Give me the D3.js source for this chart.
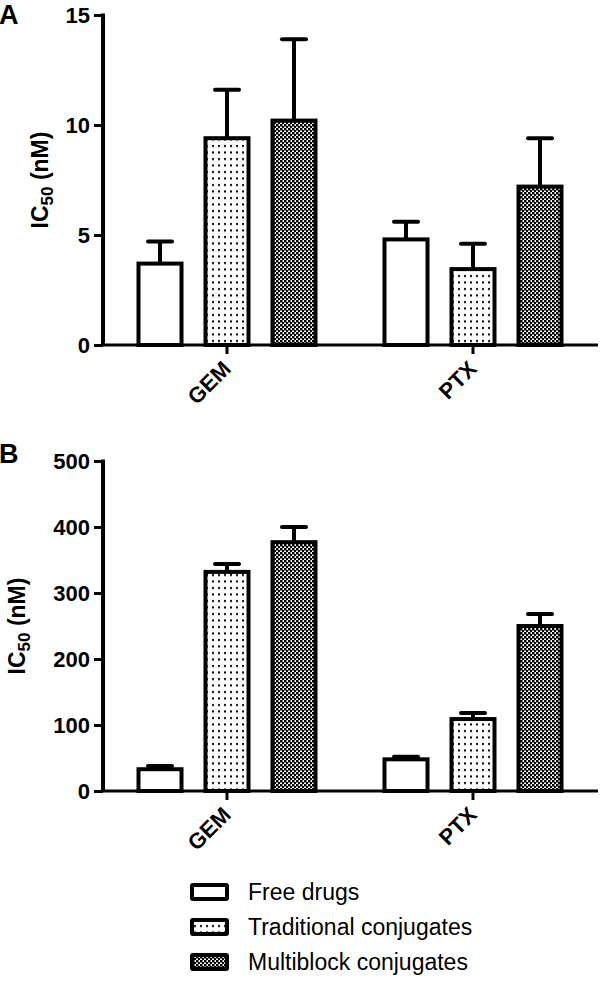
<!DOCTYPE html>
<html><head><meta charset="utf-8">
<script src="https://cdn.jsdelivr.net/npm/d3@7"></script>
<style>body{margin:0;background:#fff}svg{display:block}text{font-family:"Liberation Sans",Arial,sans-serif}</style>
</head><body>
<script>
const categories = ["GEM", "PTX"];
const series = ["Free drugs", "Traditional conjugates", "Multiblock conjugates"];
// Panel A values (nM) [GEM, PTX]
const aFree = [3.7, 4.8], aFreeErr = [1.0, 0.8];
const aTrad = [9.4, 3.45], aTradErr = [2.2, 1.15];
const aMulti = [10.2, 7.2], aMultiErr = [3.7, 2.2];
const aTicks = [0, 5, 10, 15];
// Panel B values (nM)
const bFree = [33, 48], bFreeErr = [5, 4];
const bTrad = [332, 109], bTradErr = [12, 9];
const bMulti = [377, 250], bMultiErr = [23, 18];
const bTicks = [0, 100, 200, 300, 400, 500];

const W = 600, H = 982;
const svg = d3.select("body").append("svg").attr("width", W).attr("height", H);
const defs = svg.append("defs");
const pd = defs.append("pattern").attr("id","dots").attr("patternUnits","userSpaceOnUse").attr("width",6).attr("height",6.5);
pd.append("rect").attr("width",6).attr("height",6.5).attr("fill","#fff");
pd.append("rect").attr("x",2).attr("y",2).attr("width",2).attr("height",2).attr("fill","#000");
const pc = defs.append("pattern").attr("id","checks").attr("patternUnits","userSpaceOnUse").attr("width",4).attr("height",4);
pc.append("rect").attr("width",4).attr("height",4).attr("fill","#fff");
pc.append("rect").attr("x",0).attr("y",0).attr("width",2.5).attr("height",2.5).attr("fill","#000");
pc.append("rect").attr("x",2).attr("y",2).attr("width",2.5).attr("height",2.5).attr("fill","#000");
const fills = ["#fff", "url(#dots)", "url(#checks)"];

const x = d3.scaleBand().domain(categories).range([104, 596]);
const xs = d3.scaleBand().domain(series).range([-88.5, 88.5]).paddingInner(0.358).paddingOuter(0);

function panel(letter, letterY, top, bottom, domainMax, ticks, vals, errs, titleX) {
  const y = d3.scaleLinear().domain([0, domainMax]).range([bottom, top]);
  const g = svg.append("g");
  g.append("text").attr("x", -1).attr("y", letterY).attr("font-size", 27).attr("font-weight", "bold").text(letter);
  // y axis
  const ya = g.append("g").attr("transform", `translate(103,0)`)
    .call(d3.axisLeft(y).tickValues(ticks).tickSize(9).tickPadding(4).tickFormat(d3.format("d")));
  ya.select(".domain").remove();
  ya.selectAll(".tick line").attr("stroke-width", 3);
  ya.selectAll(".tick text").attr("font-size", 22).attr("font-weight", "bold").attr("font-family", "Liberation Sans, Arial, sans-serif").attr("fill","#000").attr("dy","0.36em");
  g.append("line").attr("x1",103).attr("x2",103).attr("y1",y(domainMax)-1.5).attr("y2",bottom).attr("stroke","#000").attr("stroke-width",4);
  // x axis
  const xa = g.append("g").attr("transform", `translate(0,${bottom})`)
    .call(d3.axisBottom(x).tickSize(9).tickFormat(""));
  xa.select(".domain").remove();
  xa.selectAll(".tick line").attr("stroke-width", 3);
  g.append("line").attr("x1",101).attr("x2",598).attr("y1",bottom).attr("y2",bottom).attr("stroke","#000").attr("stroke-width",3);
  categories.forEach(c => {
    g.append("text").attr("transform", `translate(${x(c)+x.bandwidth()/2-6},${bottom+14}) rotate(-45)`)
      .attr("text-anchor","end").attr("dy","0.72em").attr("font-size", 22).attr("font-weight","bold").text(c);
  });
  // bars
  series.forEach((s, si) => {
    categories.forEach((c, ci) => {
      const cx = x(c) + x.bandwidth()/2 + xs(s) + xs.bandwidth()/2;
      const v = vals[si][ci], e = errs[si][ci];
      g.append("line").attr("x1",cx).attr("x2",cx).attr("y1",y(v)).attr("y2",y(v+e)).attr("stroke","#000").attr("stroke-width",4);
      g.append("line").attr("x1",cx-12).attr("x2",cx+12).attr("y1",y(v+e)).attr("y2",y(v+e)).attr("stroke","#000").attr("stroke-width",4).attr("stroke-linecap","round");
      g.append("rect").attr("x", x(c) + x.bandwidth()/2 + xs(s)).attr("width", xs.bandwidth())
        .attr("y", y(v)).attr("height", bottom - y(v))
        .attr("fill", fills[si]).attr("stroke","#000").attr("stroke-width",4);
    });
  });
  // y title
  const t = g.append("text").attr("transform", `translate(${titleX},${(top+bottom)/2}) rotate(-90)`)
    .attr("text-anchor","middle").attr("font-size", 23).attr("font-weight","bold");
  t.append("tspan").text("IC");
  t.append("tspan").attr("font-size", 17).attr("dy", 5).text("50");
  t.append("tspan").attr("dy", -5).text(" (nM)");
}

panel("A", 24, 15, 345, 15, aTicks, [aFree, aTrad, aMulti], [aFreeErr, aTradErr, aMultiErr], 48);
panel("B", 463, 461, 791, 500, bTicks, [bFree, bTrad, bMulti], [bFreeErr, bTradErr, bMultiErr], 25);

// legend
const lg = svg.append("g");
series.forEach((s, i) => {
  const cy = 892 + i * 35;
  lg.append("rect").attr("x", 192).attr("y", cy - 7).attr("width", 35).attr("height", 14)
    .attr("fill", fills[i]).attr("stroke", "#000").attr("stroke-width", 4).attr("rx", 1);
  lg.append("text").attr("x", 248).attr("y", cy + 8).attr("font-size", 23).text(s);
});
</script>
</body></html>
